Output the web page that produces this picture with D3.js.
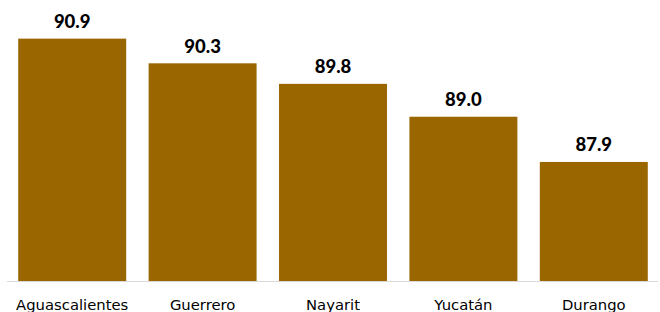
<!DOCTYPE html>
<html>
<head>
<meta charset="utf-8">
<script src="https://cdn.jsdelivr.net/npm/d3@7"></script>
<style>
  html, body { margin: 0; padding: 0; background: #fff; }
  svg { display: block; }
</style>
</head>
<body>
<svg id="chart" width="660" height="312"></svg>
<script>
const categories = ["Aguascalientes", "Guerrero", "Nayarit", "Yucatán", "Durango"];
const values = [90.9, 90.3, 89.8, 89.0, 87.9];

const svg = d3.select("#chart");
const baseY = 281;

const x = d3.scaleBand()
  .domain(categories)
  .range([7, 659])
  .paddingInner(0.172)
  .paddingOuter(0.086);

const y = d3.scaleLinear()
  .domain([85.04, 91.5])
  .range([baseY - 1.5, baseY - 1.5 - 6.46 * 41.1]);

const data = categories.map((c, i) => ({ c, v: values[i] }));

svg.append("g").selectAll("rect")
  .data(data)
  .join("rect")
  .attr("x", d => x(d.c))
  .attr("width", x.bandwidth())
  .attr("y", d => y(d.v))
  .attr("height", d => baseY - y(d.v))
  .attr("fill", "#996600");

// axis
const axis = d3.axisBottom(x).tickSize(0).tickPadding(0);
const gx = svg.append("g")
  .attr("transform", `translate(0,${baseY})`)
  .call(axis);
gx.select(".domain").attr("stroke", "#d9d9d9").attr("stroke-width", 1)
  .attr("d", "M7,0.5H658");
gx.selectAll(".tick text")
  .attr("dy", null)
  .attr("y", 28.8)
  .attr("fill", "#000")
  .style("font-family", "'DejaVu Sans', sans-serif")
  .style("font-size", "14.8px");

// value labels
svg.append("g").selectAll("text")
  .data(data)
  .join("text")
  .attr("x", d => x(d.c) + x.bandwidth() / 2)
  .attr("y", d => y(d.v) - 10.5)
  .attr("text-anchor", "middle")
  .attr("fill", "#000")
  .style("font-family", "Lato, sans-serif")
  .style("font-weight", "900")
  .style("font-size", "18.5px")
  .text(d => d.v.toFixed(1));
</script>
</body>
</html>
